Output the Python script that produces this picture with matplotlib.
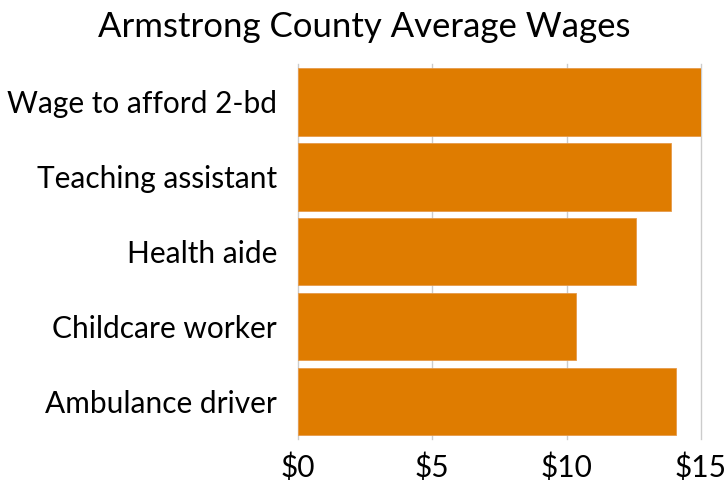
import matplotlib.pyplot as plt
import numpy as np

plt.rcParams['font.family'] = ['Lato', 'DejaVu Sans']

# data
jobs = ['Wage to afford 2-bd', 'Teaching assistant', 'Health aide',
        'Childcare worker', 'Ambulance driver']
wages = [15.0, 13.87, 12.59, 10.33, 14.07]
ticks = [0, 5, 10, 15]
tick_labels = ['$0', '$5', '$10', '$15']

fig = plt.figure(figsize=(7.28, 4.8), dpi=100)
ax = fig.add_axes([0.4093, 0.085, 0.5536, 0.781])

y = np.arange(len(jobs))
ax.barh(y, wages, height=0.9, color='#DF7C00', edgecolor='#E69A4A',
        linewidth=0.6, zorder=3)
ax.set_ylim(len(jobs) - 0.5, -0.5)
ax.set_xlim(0, 15)
ax.set_yticks(y)
ax.set_yticklabels(jobs, fontsize=21.5)
ax.set_xticks(ticks)
ax.set_xticklabels(tick_labels, fontsize=21.5)
ax.tick_params(axis='y', length=0, pad=15)
ax.tick_params(axis='x', length=0, pad=10)
ax.grid(axis='x', color='#CCCCCC', linewidth=1, zorder=0)
for gl in ax.get_xgridlines():
    gl.set_clip_on(False)
for s in ax.spines.values():
    s.set_visible(False)

fig.text(0.5, 0.944, 'Armstrong County Average Wages', fontsize=25,
         ha='center', va='center')

fig.savefig('out.png', dpi=100)
